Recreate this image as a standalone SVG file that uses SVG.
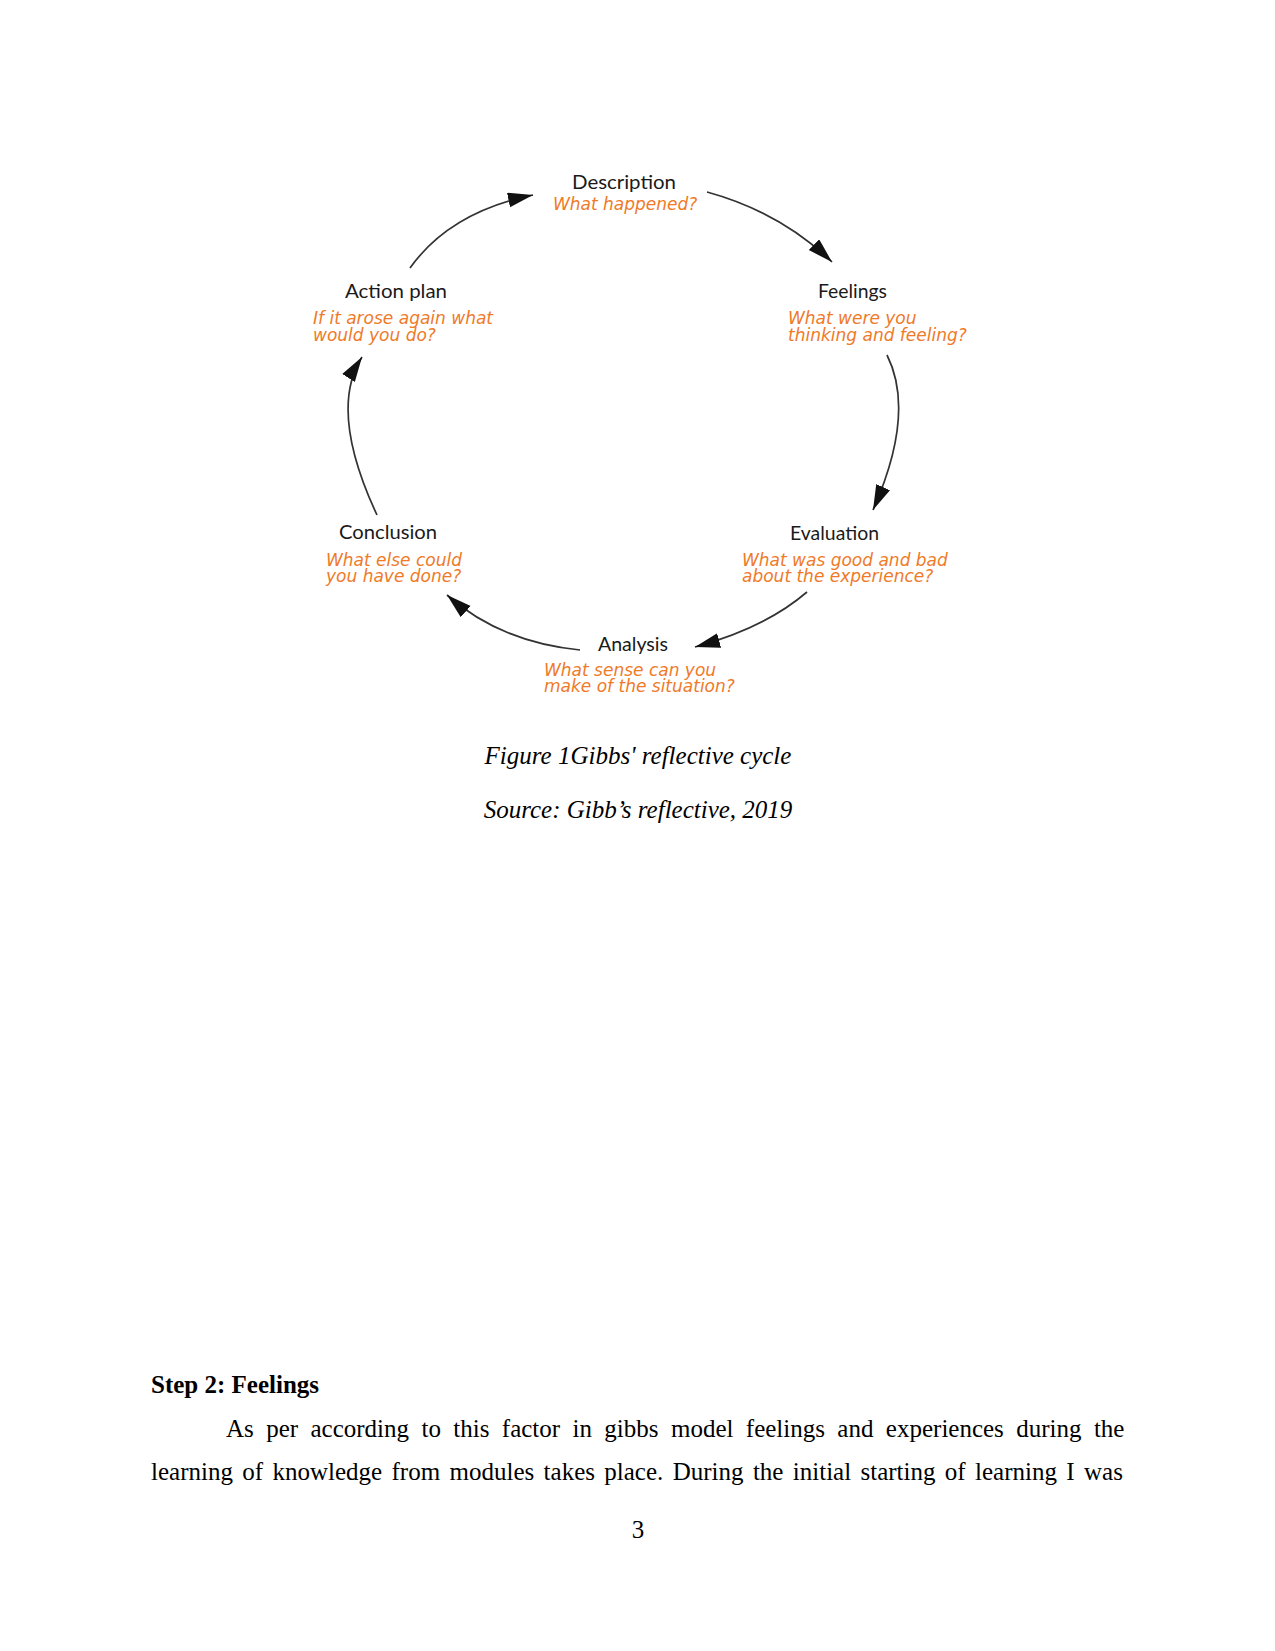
<svg xmlns="http://www.w3.org/2000/svg" width="1275" height="1651" viewBox="0 0 1275 1651">
<style>
.lbl{font-family:Lato,"Open Sans","Liberation Sans",sans-serif;font-size:20px;fill:#1a1a1a}
.q{font-family:"DejaVu Sans",Verdana,sans-serif;font-style:italic;font-size:17px;fill:#ef7a28}
.cap{font-family:"Liberation Serif","Times New Roman",serif;font-style:italic;font-size:25px;fill:#000;text-anchor:middle}
.body{font-family:"Liberation Serif","Times New Roman",serif;font-size:25px;fill:#000}
.arc{fill:none;stroke:#333;stroke-width:1.7}
</style>
<defs>
<marker id="ah" markerUnits="userSpaceOnUse" markerWidth="26" markerHeight="16" refX="25" refY="7.5" orient="auto">
<path d="M0,0 L25,7.5 L0,15 z" fill="#111"/>
</marker>
</defs>
<rect width="1275" height="1651" fill="#fff"/>
<g id="connectors">
<path class="arc" d="M410,268 Q450,212 533,195" marker-end="url(#ah)"/>
<path class="arc" d="M707,192 Q780,212 832,262" marker-end="url(#ah)"/>
<path class="arc" d="M887,355 Q916,413 873,510" marker-end="url(#ah)"/>
<path class="arc" d="M807,592 Q765,628 695,647" marker-end="url(#ah)"/>
<path class="arc" d="M580,650 Q500,642 447,595" marker-end="url(#ah)"/>
<path class="arc" d="M377,515 Q328,410 362,357" marker-end="url(#ah)"/>
</g>
<g id="description">
<text class="lbl" x="572" y="189" textLength="104" lengthAdjust="spacingAndGlyphs">Description</text>
<text class="q" x="553" y="210">What happened?</text>
</g>
<g id="feelings">
<text class="lbl" x="818" y="298" textLength="69" lengthAdjust="spacingAndGlyphs">Feelings</text>
<text class="q" x="788" y="324">What were you</text>
<text class="q" x="788" y="341">thinking and feeling?</text>
</g>
<g id="evaluation">
<text class="lbl" x="790" y="540" textLength="89" lengthAdjust="spacingAndGlyphs">Evaluation</text>
<text class="q" x="742" y="566">What was good and bad</text>
<text class="q" x="742" y="582">about the experience?</text>
</g>
<g id="analysis">
<text class="lbl" x="598" y="651" textLength="70" lengthAdjust="spacingAndGlyphs">Analysis</text>
<text class="q" x="544" y="676">What sense can you</text>
<text class="q" x="544" y="692">make of the situation?</text>
</g>
<g id="conclusion">
<text class="lbl" x="339" y="539" textLength="98" lengthAdjust="spacingAndGlyphs">Conclusion</text>
<text class="q" x="326" y="566">What else could</text>
<text class="q" x="326" y="582">you have done?</text>
</g>
<g id="action-plan">
<text class="lbl" x="345" y="298" textLength="102" lengthAdjust="spacingAndGlyphs">Action plan</text>
<text class="q" x="313" y="324">If it arose again what</text>
<text class="q" x="313" y="341">would you do?</text>
</g>
<g id="captions">
<text class="cap" x="638" y="764">Figure 1Gibbs' reflective cycle</text>
<text class="cap" x="638" y="818">Source: Gibb’s reflective, 2019</text>
</g>
<g id="body-text">
<text class="body" x="151" y="1393" font-weight="bold">Step 2: Feelings</text>
<text class="body" x="226" y="1437" word-spacing="6.15">As per according to this factor in gibbs model feelings and experiences during the</text>
<text class="body" x="151" y="1480" word-spacing="3.12">learning of knowledge from modules takes place. During the initial starting of learning I was</text>
<text class="body" x="638" y="1538" text-anchor="middle">3</text>
</g>
</svg>
